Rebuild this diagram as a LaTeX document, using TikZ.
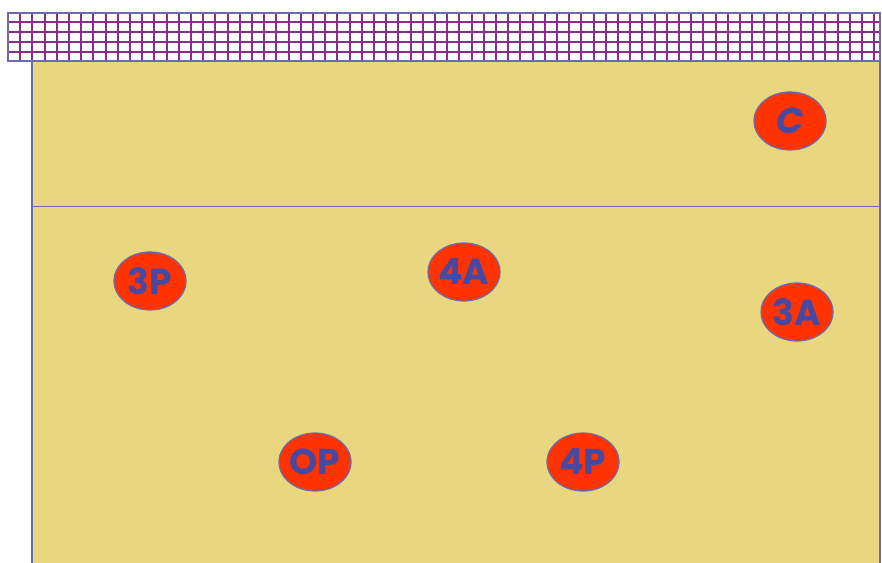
\documentclass[tikz,border=0pt]{standalone}
\usepackage{fontspec}
\setmainfont{Poppins}
\definecolor{court}{HTML}{E9D780}
\definecolor{netline}{HTML}{8A2C8A}
\definecolor{border}{HTML}{6B6BAE}
\definecolor{player}{HTML}{FF3300}
\definecolor{ptext}{HTML}{4848A0}
\tikzset{
  pl/.style={ellipse, draw=border, line width=1.2pt, fill=player, minimum width=72pt, minimum height=58pt, inner sep=0pt,
    text=ptext, font=\fontsize{36}{36}\selectfont\bfseries},
}
\usetikzlibrary{shapes.geometric}
\begin{document}
\begin{tikzpicture}[x=1pt,y=-1pt]
\useasboundingbox (0,0) rectangle (882,562);
% court
\fill[court] (32,61) rectangle (880,570);
\draw[border, line width=1.2pt] (32,570) -- (32,61) -- (880,61) -- (880,570);
\draw[border, line width=1pt] (32,206) -- (880,206);
% net
\fill[white] (8,13) rectangle (880,61);
\foreach \i in {1,...,71} {
  \draw[netline, line width=2pt] ({8+12.2*\i},13) -- ({8+12.2*\i},61);
}
\foreach \j in {22.3,32.3,42.3,52.3} {
  \draw[netline, line width=2pt] (8,\j) -- (880,\j);
}
\draw[border, line width=1.5pt] (8,13) rectangle (880,61);
% players
\node[pl] (c) at (790,121) {\itshape C};
\node[pl] (p3) at (150,281) {3P};
\node[pl] (a4) at (464,272) {4A};
\node[pl] (a3) at (797,312) {3A};
\node[pl] (op) at (315,462) {OP};
\node[pl] (p4) at (583,462) {4P};
\end{tikzpicture}
\end{document}
